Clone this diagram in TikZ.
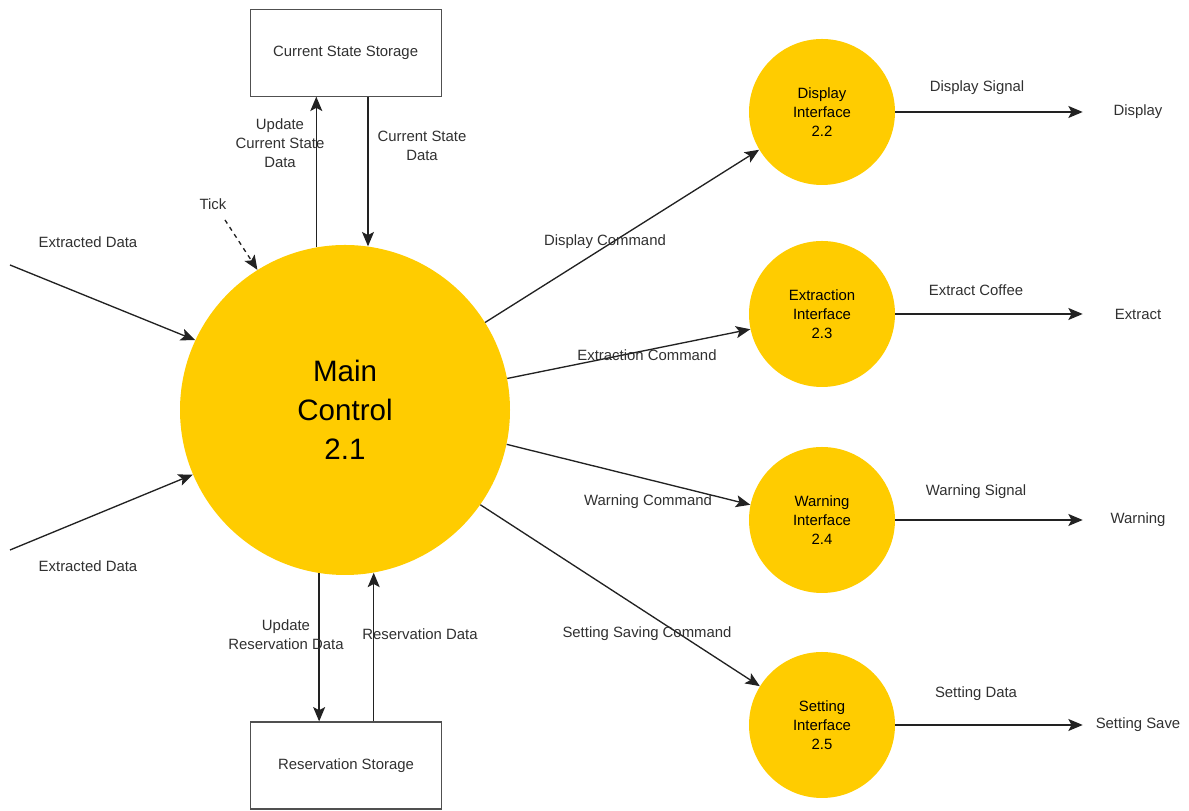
\documentclass[tikz,border=0pt]{standalone}
\usepackage{fontspec}
\setmainfont{Liberation Sans}
\usepackage{xcolor}
\definecolor{colYellow}{HTML}{FFCC00}
\definecolor{colLine}{HTML}{222222}
\definecolor{colText}{HTML}{303030}
\definecolor{colBox}{HTML}{505050}
\usepackage{tikz}
\usetikzlibrary{arrows.meta, positioning}

\tikzset{
    process/.style={circle, fill=colYellow, text=black, align=center, inner sep=0pt,
        minimum size=3.65cm, font=\fontsize{10.6}{13.3}\selectfont},
    store/.style={draw=colBox, line width=0.8pt, text=colText, minimum width=4.775cm,
        minimum height=2.175cm, font=\fontsize{10.6}{13.3}\selectfont},
    lbl/.style={text=colText, align=center, inner sep=1pt, font=\fontsize{10.6}{13.3}\selectfont},
    terminal/.style={lbl, minimum width=2.75cm, inner sep=0pt},
    flow/.style={-{Stealth[length=3.6mm, width=3mm, inset=0.8mm]}, colLine, line width=0.95pt},
}

\begin{document}
\begin{tikzpicture}
    \useasboundingbox (0,0) rectangle (29.725,20.275);
    % Processi
    \node[process, minimum size=8.25cm, font=\fontsize{21}{27.7}\selectfont] (main) at (8.625,10.025) {Main\\Control\\2.1};
    \node[process] (disp) at (20.55,17.475) {Display\\Interface\\2.2};
    \node[process] (extr) at (20.55,12.425) {Extraction\\Interface\\2.3};
    \node[process] (warn) at (20.55,7.275) {Warning\\Interface\\2.4};
    \node[process] (sett) at (20.55,2.15) {Setting\\Interface\\2.5};
    % Archivi
    \node[store] (csbox) at (8.64,18.96) {Current State Storage};
    \node[store] (rsbox) at (8.65,1.1375) {Reservation Storage};
    % Uscite
    \node[terminal] (dispout) at (28.45,17.475) {Display};
    \node[terminal] (extrout) at (28.45,12.425) {Extract};
    \node[terminal] (warnout) at (28.45,7.275) {Warning};
    \node[terminal] (settout) at (28.45,2.15) {Setting Save};
    % Archivio stato corrente
    \draw[flow] (main.100) -- (main.100 |- csbox.south);
    \draw[flow] (csbox.south -| main.82) -- (main.82);
    \node[lbl] (updcs) at (7.0,16.7) {Update\\Current State\\Data};
    \node[lbl] (csdata) at (10.55,16.625) {Current State\\Data};
    % Archivio prenotazioni
    \draw[flow] (main.261) -- (main.261 |- rsbox.north);
    \draw[flow] (rsbox.north -| main.280) -- (main.280);
    \node[lbl] (updrs) at (7.15,4.4) {Update\\Reservation Data};
    \node[lbl] (rsdata) at (10.5,4.425) {Reservation Data};
    % Ingressi
    \coordinate (exin1) at (0.25,13.65);
    \coordinate (exin2) at (0.25,6.525);
    \coordinate (tickin) at (5.625,14.775);
    \draw[flow] (exin1) -- (main.155);
    \draw[flow] (exin2) -- (main.203);
    \draw[flow, dashed] (tickin) -- (main.122);
    \node[lbl] (exlbl1) at (2.2,14.225) {Extracted Data};
    \node[lbl] (exlbl2) at (2.2,6.125) {Extracted Data};
    \node[lbl] (tick) at (5.325,15.175) {Tick};
    % Comandi
    \draw[flow] (main.32) -- (disp.211);
    \draw[flow] (main.11) -- (extr.192);
    \draw[flow] (main.-12) -- (warn.168);
    \draw[flow] (main.-35) -- (sett.148);
    \node[lbl] (dispcmd) at (15.125,14.225) {Display Command};
    \node[lbl] (extrcmd) at (16.175,11.4) {Extraction Command};
    \node[lbl] (warncmd) at (16.2,7.725) {Warning Command};
    \node[lbl] (settcmd) at (16.175,4.425) {Setting Saving Command};
    % Segnali
    \draw[flow] (disp) -- (dispout);
    \draw[flow] (extr) -- (extrout);
    \draw[flow] (warn) -- (warnout);
    \draw[flow] (sett) -- (settout);
    \node[lbl] (dispsig) at (24.425,18.075) {Display Signal};
    \node[lbl] (extrsig) at (24.4,13.025) {Extract Coffee};
    \node[lbl] (warnsig) at (24.4,7.975) {Warning Signal};
    \node[lbl] (settsig) at (24.4,2.925) {Setting Data};
\end{tikzpicture}
\end{document}
